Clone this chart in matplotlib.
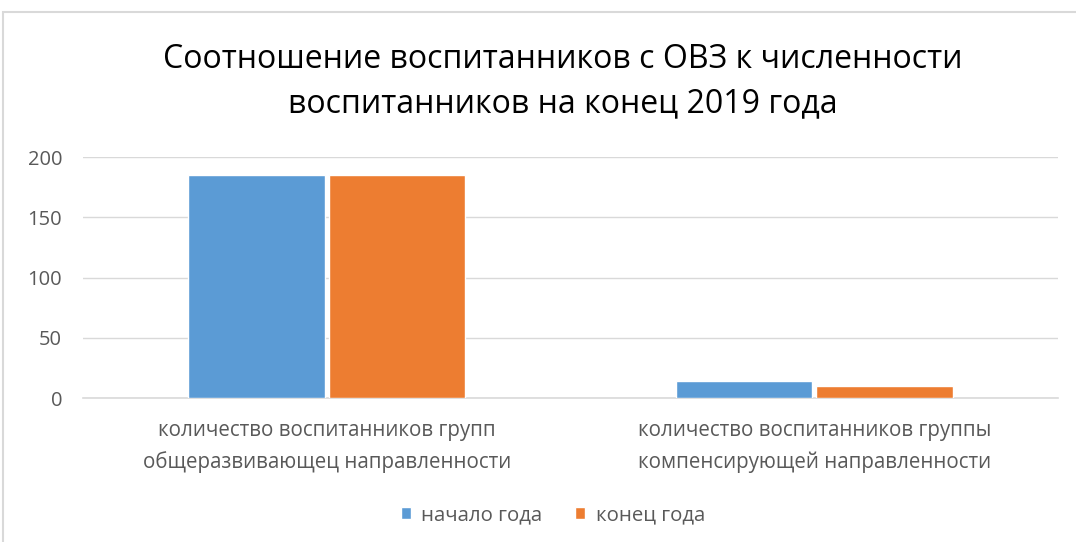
import matplotlib
matplotlib.use("Agg")
import matplotlib.pyplot as plt
import numpy as np
from matplotlib.patches import Rectangle

categories = ["количество воспитанников групп\nобщеразвивающец направленности",
              "количество воспитанников группы\nкомпенсирующей направленности"]
series_names = ["начало года", "конец года"]
start_year = [185, 14]
end_year = [185, 10]
yticks = [0, 50, 100, 150, 200]
title = "Соотношение воспитанников с ОВЗ к численности\nвоспитанников на конец 2019 года"

plt.rcParams['font.family'] = ['Open Sans', 'DejaVu Sans']
W, H = 1076, 542
fig = plt.figure(figsize=(W/100, H/100), dpi=100)
fig.patches.append(Rectangle((3/W, -0.05), 1.2, 1 - 12/H + 0.05, transform=fig.transFigure,
                             fill=False, edgecolor='#D9D9D9', linewidth=1.5))
ax = fig.add_axes([83/W, 1-398/H, (1058-83)/W, (398-157)/H])

x = np.arange(len(categories))
bw = 0.28
ax.bar(x - bw/2 - 0.004, start_year, bw, color='#5B9BD5', edgecolor='white', linewidth=1, label=series_names[0], zorder=3)
ax.bar(x + bw/2 + 0.004, end_year, bw, color='#ED7D31', edgecolor='white', linewidth=1, label=series_names[1], zorder=3)
ax.set_xlim(-0.5, 1.5)
ax.set_ylim(0, 200)
ax.set_yticks(yticks)
ax.yaxis.grid(True, color='#D9D9D9', linewidth=1)
ax.set_axisbelow(True)
for s in ['top', 'right', 'left']:
    ax.spines[s].set_visible(False)
ax.spines['bottom'].set_color('#D9D9D9')
ax.spines['bottom'].set_linewidth(1.2)
ax.tick_params(axis='y', length=0, labelsize=14.5, labelcolor='#595959', pad=15)
ax.tick_params(axis='x', length=0, labelsize=14.8, labelcolor='#595959', pad=16)
ax.set_xticks(x)
ax.set_xticklabels(categories, linespacing=1.6)
fig.text(563/W, 1-82/H, title, ha='center', va='center', fontsize=23, color='#000000', linespacing=1.45)
leg = fig.legend(loc='center', bbox_to_anchor=(553/W, 1-515/H), ncol=2, frameon=False,
                 fontsize=14.7, handlelength=0.5, handleheight=0.5, columnspacing=1.6, handletextpad=0.5)
for t in leg.get_texts():
    t.set_color('#595959')
fig.savefig("out.png", dpi=100)
